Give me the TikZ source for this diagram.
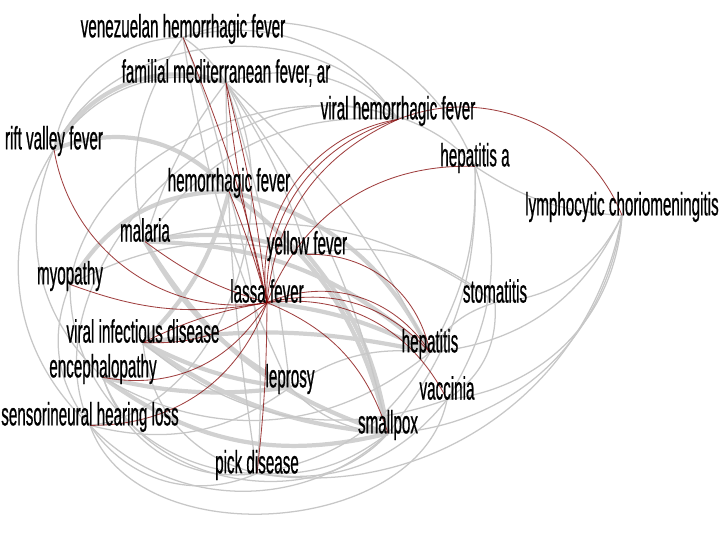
\documentclass[tikz,border=0pt]{standalone}
\usepackage{fontspec}
\newfontfamily\lblfont[FakeStretch=0.47, FakeBold=0.6]{Liberation Sans}
\usetikzlibrary{backgrounds}

\tikzset{
  lbl/.style={font=\lblfont\fontsize{23}{25}\selectfont, text=black, inner sep=0pt},
  gn/.style={draw=black!22, line width=0.9pt},
  gt/.style={draw=black!18, line width=3pt},
  rd/.style={draw=red!50!black, line width=0.6pt, opacity=0.75}
}

\begin{document}
\begin{tikzpicture}[x=0.025cm, y=-0.025cm]
  \useasboundingbox (0,0) rectangle (720,540);
  \foreach \n/\x/\y/\t in {ven/183/29/venezuelan hemorrhagic fever,
                           fam/226/73/{familial mediterranean fever, ar},
                           vhf/398/111/viral hemorrhagic fever,
                           rvf/54/141/rift valley fever,
                           hepa/475/158/hepatitis a,
                           hf/229/183/hemorrhagic fever,
                           lcm/622/207/lymphocytic choriomeningitis,
                           mal/145/230/malaria,
                           yf/307/246/yellow fever,
                           myo/70/276/myopathy,
                           lassa/267/291/lassa fever,
                           stom/495/291/stomatitis,
                           vid/143/331/viral infectious disease,
                           hep/430/344/hepatitis,
                           enc/103/369/encephalopathy,
                           lep/290/379/leprosy,
                           vac/447/388/vaccinia,
                           shl/90/417/sensorineural hearing loss,
                           sp/388/425/smallpox,
                           pick/257/465/pick disease}
    \node[lbl] (\n) at (\x,\y) {\t};

  \begin{scope}[on background layer]
    \foreach \a/\b/\bd in {mal/hep/20, hf/hep/25, mal/yf/15, vid/sp/-15, vid/lep/-10,
                           enc/sp/-25, mal/sp/-20, hf/vid/15, yf/sp/15, rvf/hf/35,
                           mal/lep/-15, lassa/hep/10, myo/hf/30, vid/hep/10, enc/lep/-10,
                           hf/sp/20, rvf/fam/40}
      \draw[gt] (\a.base) to[bend left=\bd] (\b.base);
    \foreach \a/\b/\bd in {rvf/vhf/60, shl/ven/-70, myo/hepa/65, ven/hepa/45, lcm/hepa/15,
                           shl/sp/-45, shl/vac/-75, enc/sp/-60, lcm/sp/40, lcm/vac/40, lcm/pick/45,
                           lcm/stom/30, lcm/hep/30, hepa/vac/25, hepa/sp/20, stom/vac/30,
                           rvf/shl/-40, rvf/enc/-35, myo/shl/-30, myo/pick/-45, shl/pick/-40,
                           enc/pick/-40, vid/pick/-35, pick/sp/-20, pick/vac/-30, pick/hep/-25,
                           ven/hf/5, ven/rvf/-40, ven/vhf/35, fam/rvf/-35, fam/vhf/30,
                           fam/hep/10, fam/mal/-10, fam/yf/8, fam/sp/12, fam/pick/-4,
                           stom/yf/-25, mal/vhf/30, mal/stom/25, myo/yf/20,
                           vid/vac/-30, enc/hep/-35, shl/lep/-25, ven/mal/-25, fam/lep/5,
                           hf/pick/10, shl/vhf/70, lep/sp/-20, lep/hep/20,
                           hepa/hep/15, stom/hep/-20, ven/lep/-8}
      \draw[gn] (\a.base) to[bend left=\bd] (\b.base);
    \foreach \a/\b/\bd in {lassa/ven/-5, lassa/fam/-4, lassa/fam/4, lassa/hf/-3, lassa/rvf/45,
                           lassa/mal/10, lassa/myo/15, lassa/vid/20, lassa/vid/-8, lassa/enc/35,
                           lassa/shl/35, lassa/pick/3, lassa/sp/25, lassa/hep/40, lassa/hep/30,
                           lassa/vhf/30, lassa/vhf/38, lassa/vhf/45, vhf/lcm/45,
                           lassa/hepa/35, yf/hep/40, lassa/vac/35}
      \draw[rd] (\a.base) to[bend left=\bd] (\b.base);
  \end{scope}
\end{tikzpicture}
\end{document}
